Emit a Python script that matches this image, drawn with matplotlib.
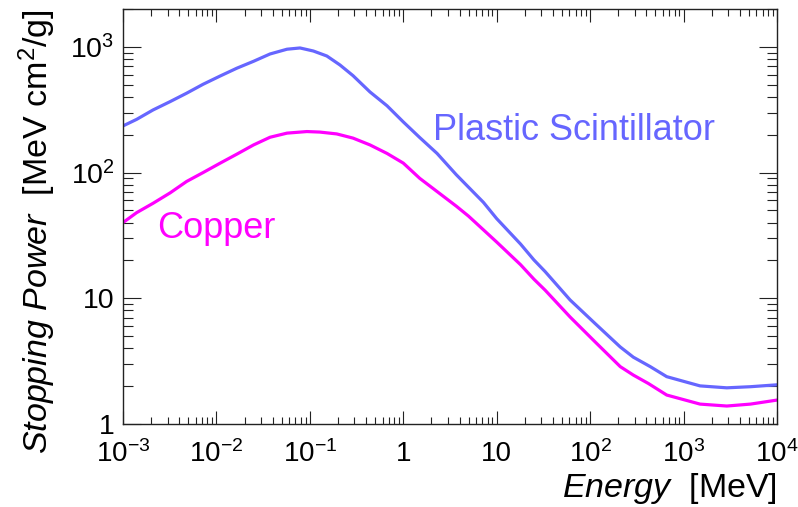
import matplotlib
matplotlib.use("Agg")
import matplotlib.pyplot as plt
from matplotlib.ticker import FixedLocator, FixedFormatter, LogLocator, NullFormatter

plt.rcParams["font.family"] = ["Liberation Sans", "DejaVu Sans"]
plt.rcParams["mathtext.fontset"] = "custom"
plt.rcParams["mathtext.rm"] = "Liberation Sans"
plt.rcParams["mathtext.it"] = "Liberation Sans:italic"
plt.rcParams["mathtext.bf"] = "Liberation Sans:bold"

# stopping power curves [MeV cm2/g] vs kinetic energy [MeV]
e_plastic = [0.001, 0.0014, 0.0021, 0.0032, 0.0048, 0.0072, 0.011, 0.0165, 0.025,
             0.0375, 0.057, 0.0785, 0.109, 0.152, 0.21, 0.29, 0.44, 0.67, 1.0,
             1.5, 2.3, 3.7, 7.2, 10, 18, 25, 33, 61, 113, 210, 290, 440, 660,
             1500, 2900, 5200, 10000]
s_plastic = [235, 265, 315, 367, 428, 504, 587, 676, 768,
             878, 958, 980, 927, 846, 718, 590, 438, 340, 253,
             190, 142, 96, 58, 43, 27, 20.2, 16.3, 9.7, 6.3, 4.1, 3.4, 2.86, 2.38,
             2.01, 1.94, 1.98, 2.05]

e_copper = [0.001, 0.0014, 0.0021, 0.0032, 0.0048, 0.0072, 0.011, 0.0165, 0.025,
            0.0375, 0.057, 0.093, 0.128, 0.194, 0.29, 0.44, 0.67, 1.0,
            1.5, 3.7, 5.0, 10, 18, 25, 33, 61, 113, 210, 290, 420, 660,
            1500, 2900, 5200, 10000]
s_copper = [40, 48, 57, 69, 85, 100, 119, 140, 166,
            191, 206, 212, 210, 203, 188, 166, 142, 119,
            90, 54, 45, 28, 18.5, 14.2, 11.6, 7.1, 4.5, 2.86, 2.45, 2.1, 1.70,
            1.44, 1.39, 1.44, 1.55]

x_ticks = [1e-3, 1e-2, 1e-1, 1, 10, 1e2, 1e3, 1e4]
x_labels = ["$10^{-3}$", "$10^{-2}$", "$10^{-1}$", "1", "10",
            "$10^{2}$", "$10^{3}$", "$10^{4}$"]
y_ticks = [1, 10, 1e2, 1e3]
y_labels = ["1", "10", "$10^{2}$", "$10^{3}$"]

col_plastic = "#6666ff"
col_copper = "#ff00ff"

fig = plt.figure(figsize=(7.98, 5.07), dpi=100)
ax = fig.add_axes([0.1541, 0.1637, 0.8196, 0.8185])

ax.plot(e_plastic, s_plastic, color=col_plastic, lw=2.3, solid_joinstyle="round")
ax.plot(e_copper, s_copper, color=col_copper, lw=2.3, solid_joinstyle="round")

ax.set_xscale("log")
ax.set_yscale("log")
ax.set_xlim(1e-3, 1e4)
ax.set_ylim(1, 2000)

ax.xaxis.set_major_locator(FixedLocator(x_ticks))
ax.xaxis.set_major_formatter(FixedFormatter(x_labels))
ax.yaxis.set_major_locator(FixedLocator(y_ticks))
ax.yaxis.set_major_formatter(FixedFormatter(y_labels))
ax.xaxis.set_minor_locator(LogLocator(base=10, subs=range(2, 10), numticks=20))
ax.yaxis.set_minor_locator(LogLocator(base=10, subs=range(2, 10), numticks=20))
ax.xaxis.set_minor_formatter(NullFormatter())
ax.yaxis.set_minor_formatter(NullFormatter())

ax.tick_params(which="both", direction="in", top=True, right=True, width=0.8, color="#222222")
ax.tick_params(axis="x", which="major", length=9.5, pad=12, labelsize=20)
ax.tick_params(axis="x", which="minor", length=5)
ax.tick_params(axis="y", which="major", length=13, pad=6, labelsize=20.5)
ax.tick_params(axis="y", which="minor", length=7)
for sp in ax.spines.values():
    sp.set_linewidth(1.0)
    sp.set_color("#222222")

ax.text(0.474, 0.684, "Plastic Scintillator", transform=ax.transAxes,
        color=col_plastic, fontsize=26, ha="left", va="baseline")
ax.text(0.052, 0.448, "Copper", transform=ax.transAxes,
        color=col_copper, fontsize=26, ha="left", va="baseline")

fig.text(777 / 798, 1 - 497 / 507, r"$\mathit{Energy}$  [MeV]",
         fontsize=24.5, ha="right", va="baseline")
fig.text(16 / 798, 1 - 9 / 507, r"$\mathit{Stopping\ Power}$  [MeV cm$^{2}$/g]",
         fontsize=24.5, rotation=90, ha="left", va="top")

fig.savefig("out.png", dpi=100)
